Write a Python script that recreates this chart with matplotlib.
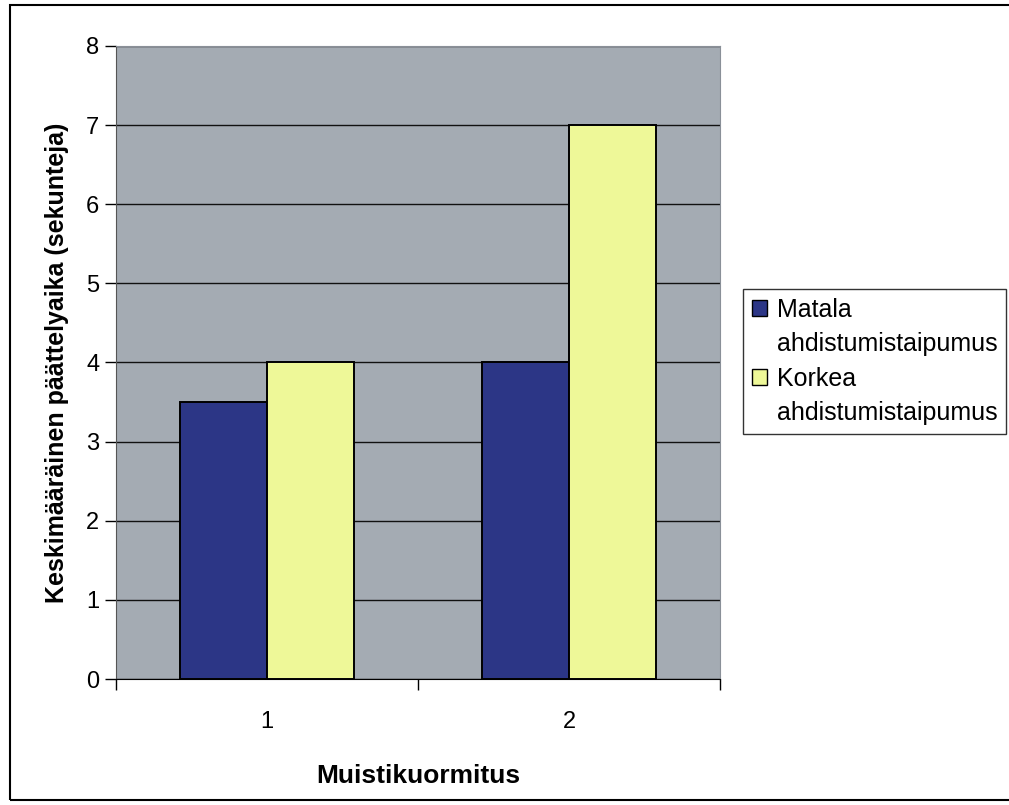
import numpy as np
import matplotlib.pyplot as plt
from matplotlib.patches import Rectangle

# data
categories = ["1", "2"]
matala = [3.5, 4.0]
korkea = [4.0, 7.0]
series_names = ["Matala\nahdistumistaipumus", "Korkea\nahdistumistaipumus"]
colors = ["#2c3686", "#eef898"]

plt.rcParams['font.family'] = ['Liberation Sans', 'DejaVu Sans']

fig = plt.figure(figsize=(10.09, 8.05), dpi=100)
ax = fig.add_axes([0.115, 0.1565, 0.5985, 0.7864])
ax.set_facecolor("#a4abb3")

x = np.arange(len(categories))
w = 0.287
b1 = ax.bar(x - w / 2, matala, w, color=colors[0], edgecolor="black",
            linewidth=1.4, zorder=3)
b2 = ax.bar(x + w / 2, korkea, w, color=colors[1], edgecolor="black",
            linewidth=1.4, zorder=3)

ax.set_xlim(-0.5, 1.5)
ax.set_ylim(0, 8)
ax.set_yticks(range(0, 9))
ax.yaxis.grid(True, color="#111111", linewidth=1.0, zorder=1)
ax.set_axisbelow(True)

ax.set_xticks(x)
ax.set_xticklabels(categories)
ax.set_xticks([-0.5, 0.5, 1.5], minor=True)
ax.tick_params(axis="x", which="major", length=0, labelsize=17, pad=23)
ax.tick_params(axis="x", which="minor", length=8, width=1, direction="out")
ax.tick_params(axis="y", length=8, width=1, direction="out", labelsize=17, pad=4)

for side in ["top", "right"]:
    ax.spines[side].set_color("#8a9098")
ax.spines["left"].set_color("#555555")
ax.spines["bottom"].set_color("black")

ax.set_xlabel("Muistikuormitus", fontsize=19, fontweight="bold", labelpad=22)
ax.set_ylabel("Keskimääräinen päättelyaika (sekunteja)", fontsize=18,
              fontweight="bold", labelpad=12)

# legend: marker beside the first line of each two-line name
blank = Rectangle((0, 0), 1, 1, fill=False, edgecolor="none")
handles, labels = [], []
for bars, name in zip([b1, b2], series_names):
    first, second = name.split("\n")
    handles += [bars[0], blank]
    labels += [first, second]

leg = fig.legend(handles, labels, loc="upper left",
                 bbox_to_anchor=(743 / 1009, 1 - 289 / 805),
                 fontsize=18, frameon=True, fancybox=False, edgecolor="black",
                 handlelength=0.6, handleheight=0.6, handletextpad=0.4,
                 borderpad=0.35, labelspacing=0.42, borderaxespad=0)
leg.get_frame().set_linewidth(1.0)
for h in leg.legend_handles:
    h.set_linewidth(1.0)

# outer chart frame
fig.patches.append(Rectangle((10 / 1009, 1 - 800 / 805), 1.1, 795 / 805,
                             transform=fig.transFigure, fill=False,
                             edgecolor="black", linewidth=1.5))

fig.savefig("out.png", dpi=100)
